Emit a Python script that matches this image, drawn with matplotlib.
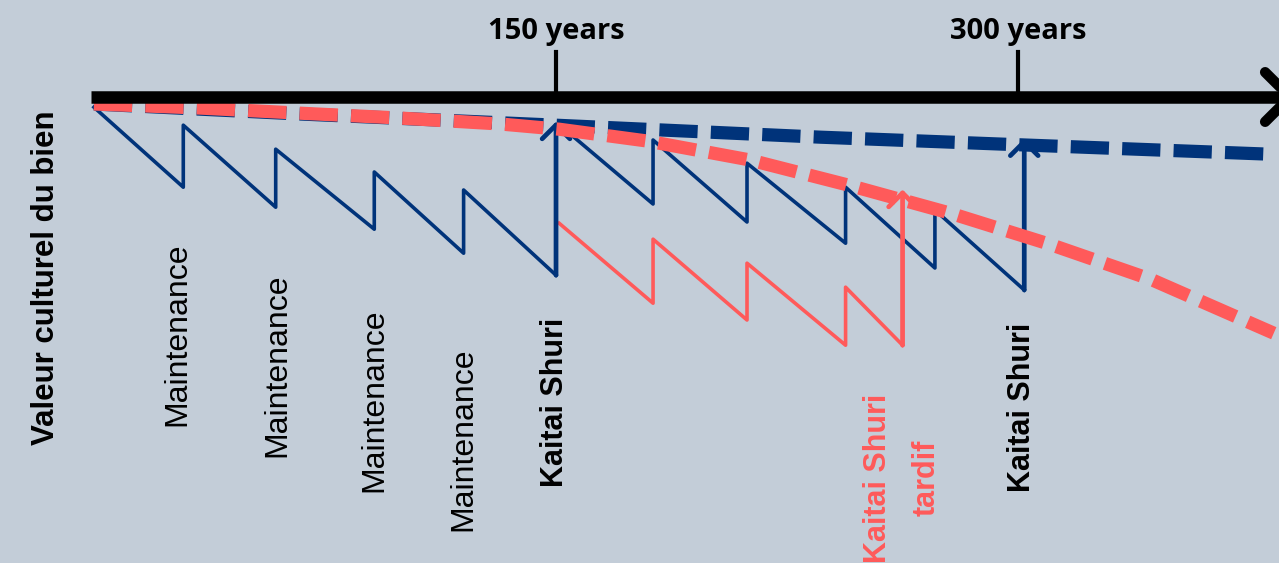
import numpy as np
import matplotlib.pyplot as plt

# time in years, cultural value in arbitrary units (100 = new)
saw1_t = [0, 29, 29, 59, 59, 91, 91, 120, 120, 150]
saw1_v = [99.2, 79.2, 94.7, 74.2, 88.7, 68.7, 83.0, 62.7, 78.5, 57.2]
saw2_t = [152, 181.5, 181.5, 212, 212, 244, 244, 273, 273, 302]
saw2_v = [94.2, 75.0, 91.0, 70.5, 85.2, 65.2, 79.2, 59.0, 73.5, 53.5]
late_t = [151, 181.5, 181.5, 212, 212, 244, 244, 262.5]
late_v = [70.2, 50.2, 66.2, 46.0, 60.2, 39.7, 54.2, 39.7]

# (x, bottom, top) of the restoration jumps
kaitai_blue = [(150, 57.2, 95.6), (302, 53.5, 91.4)]
kaitai_red = [(262.5, 39.7, 78.6)]

ideal_t = [0, 67, 150, 236, 304, 380]
ideal_v = [100, 97.5, 94.7, 91.7, 89.7, 87.5]
decay_t = [0, 34, 67, 99, 132, 151, 180, 213, 245, 278, 310, 343, 383]
decay_v = [100, 99, 97.7, 96.5, 95, 93.7, 90.7, 86, 79.7, 72.7, 65, 56.2, 42.7]

ticks = [150, 300]
tick_labels = ["150 years", "300 years"]
maint_t = [27, 59.4, 91, 120]
maint_v = [42.5, 34.7, 26, 16.2]

navy = "#00337a"
red = "#ff5a5a"
bg = "#c3cdd8"

fig = plt.figure(figsize=(12.79, 5.63), dpi=100)
fig.patch.set_facecolor(bg)
ax = fig.add_axes([0, 0, 1, 1])
ax.set_facecolor(bg)
ax.set_xlim(-30.5, 384.7)
ax.set_ylim(-14.75, 126)
ax.axis("off")

# time axis with open arrow head
axis_v = 101.75
ax.plot([-1, 386], [axis_v, axis_v], color="k", lw=9, solid_capstyle="butt", zorder=5)
ax.plot([380.2, 388.3, 380.2], [axis_v + 6.2, axis_v, axis_v - 6.2], color="k", lw=7.5,
        solid_capstyle="round", solid_joinstyle="round", zorder=5, clip_on=False)
for t, lab in zip(ticks, tick_labels):
    ax.plot([t, t], [axis_v, 113], color="k", lw=3, zorder=5)
    ax.text(t, 118.0, lab, ha="center", va="center", fontsize=21,
            fontweight="bold", family="Open Sans")

# dashed reference curves
ax.plot(ideal_t, ideal_v, color=navy, lw=9.5, dashes=(2.9, 1.0), zorder=3)
ax.plot(decay_t, decay_v, color=red, lw=9.5, dashes=(2.9, 1.0), zorder=4)

# sawtooth maintenance
ax.plot(saw1_t, saw1_v, color=navy, lw=2.6, zorder=2)
ax.plot(saw2_t, saw2_v, color=navy, lw=2.6, zorder=2)
ax.plot(late_t, late_v, color=red, lw=2.6, zorder=2)

def jump(t, v0, v1, col):
    ax.annotate("", xy=(t, v1), xytext=(t, v0),
                arrowprops=dict(arrowstyle="->,head_length=0.5,head_width=0.5",
                                lw=3.4, color=col, mutation_scale=20,
                                shrinkA=0, shrinkB=0, capstyle="round",
                                joinstyle="round"), zorder=2)

for t, v0, v1 in kaitai_blue:
    jump(t, v0, v1, navy)
for t, v0, v1 in kaitai_red:
    jump(t, v0, v1, red)

# labels
ax.text(-15.5, 56.5, "Valeur culturel du bien", rotation=90, ha="center",
        va="center", fontsize=22.5, fontweight="bold", family="Liberation Sans")
for t, v in zip(maint_t, maint_v):
    ax.text(t, v, "Maintenance", rotation=90, ha="center", va="center",
            fontsize=23, family="Liberation Sans")
for t, v in [(149.7, 25.5), (301.3, 24.2)]:
    ax.text(t, v, "Kaitai Shuri", rotation=90, ha="center", va="center",
            fontsize=22, fontweight="bold", family="Liberation Sans")
ax.text(262.3, 6.5, "Kaitai Shuri\ntardif", rotation=90, ha="center", va="center",
        multialignment="center", fontsize=22, fontweight="bold", color=red,
        family="Liberation Sans", linespacing=1.8)

fig.savefig("out.png", dpi=100, facecolor=bg)
